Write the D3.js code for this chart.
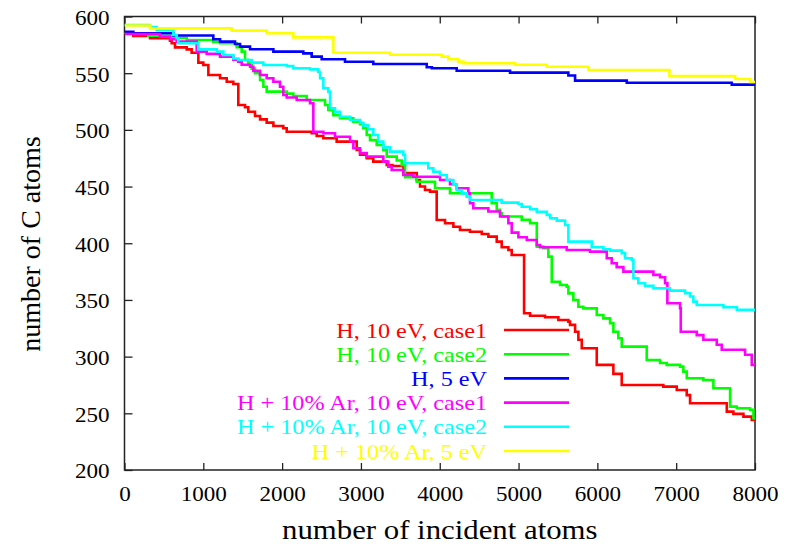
<!DOCTYPE html>
<html>
<head>
<meta charset="utf-8">
<script src="https://cdn.jsdelivr.net/npm/d3@7/dist/d3.min.js"></script>
<style>
  html, body { margin: 0; padding: 0; background: #ffffff; }
  svg { display: block; }
  svg text { font-family: 'Liberation Serif', 'Tinos', 'Nimbus Roman', 'Times New Roman', 'DejaVu Serif', serif !important; }
</style>
</head>
<body>
<svg id="chart" width="785" height="547"></svg>
<script>
// ---- data (step curves: [incident atoms, C atoms]) ----
const xTicks = [0, 1000, 2000, 3000, 4000, 5000, 6000, 7000, 8000];
const yTicks = [200, 250, 300, 350, 400, 450, 500, 550, 600];
const xLabel = "number of incident atoms";
const yLabel = "number of C atoms";

const seriesNames = ["H, 10 eV, case1", "H, 10 eV, case2", "H, 5 eV",
  "H + 10% Ar, 10 eV, case1", "H + 10% Ar, 10 eV, case2", "H + 10% Ar, 5 eV"];
const seriesColors = ["#ff0000", "#00ff00", "#0000ff", "#ff00ff", "#00ffff", "#ffff00"];

const hCase1 = [[0,585.2],[112,582.8],[324,580.8],[577,578.7],[599,576.4],[641,572.8],[789,571],[852,568],[937,559.3],[1000,557.2],[1064,548.4],[1212,545.5],[1297,542.5],[1381,540.5],[1444,522],[1529,520],[1571,516],[1656,512.3],[1720,509.3],[1804,506.4],[1889,503.4],[2015,501.4],[2058,498.4],[2375,497],[2439,494.6],[2523,492.6],[2692,489.6],[2946,482.3],[2989,478],[3073,475],[3157,472],[3327,469],[3400,468.2],[3540,462],[3708,455.8],[3750,450],[3813,447],[3877,445.5],[3961,420.5],[4067,417.6],[4173,414.6],[4257,411.7],[4384,410.2],[4533,408.2],[4617,405.8],[4723,401.4],[4786,396.5],[4871,394.1],[4913,389.7],[5070,338.3],[5146,336],[5336,334.7],[5505,332.3],[5632,330.9],[5653,328],[5717,322],[5759,314.9],[5802,307.4],[5992,292.7],[6203,284.8],[6309,275],[6837,273.5],[7007,270.6],[7134,266],[7176,258.9],[7642,251.5],[7726,249.5],[7853,247.1],[7959,244.2],[8000,244.2]];

const hCase2 = [[0,585.2],[300,583],[577,582],[619,581],[789,579.3],[1127,577.6],[1212,576.4],[1423,573],[1487,569],[1529,561.6],[1571,558.7],[1614,554],[1656,549.9],[1720,544],[1762,538.1],[1804,533.7],[2058,532],[2142,529.9],[2311,526.4],[2544,522],[2586,517.5],[2650,513],[2735,510.2],[2904,507.2],[2989,505],[3030,501.4],[3073,495.5],[3115,491],[3200,486.7],[3284,482.3],[3327,476.4],[3454,473],[3517,469],[3560,458.2],[3708,454.3],[3940,448.5],[4130,444.1],[4659,435.3],[4723,429.4],[4765,426.5],[4786,423.6],[5040,420.6],[5146,417.6],[5231,397],[5315,395.6],[5378,388.2],[5421,366.1],[5527,363.2],[5611,361.7],[5632,355.8],[5695,349.9],[5759,344],[5822,342.6],[5992,336.7],[6076,333.7],[6161,329.5],[6203,322],[6266,316.2],[6309,308.8],[6626,297],[6795,294.4],[6880,292.7],[7049,291.2],[7091,286.8],[7134,280.9],[7345,279.4],[7472,272.1],[7684,255.9],[7769,254.4],[7938,253],[7980,245.7],[8000,245.7]];

const h5eV = [[0,586.6],[112,585.2],[619,583.2],[1127,579.9],[1212,577.8],[1402,575.7],[1466,573.4],[1593,571.1],[1889,569],[2269,567.5],[2375,564.6],[2502,562.3],[2798,560.1],[3157,558.1],[3835,555.2],[3900,554.3],[4215,552.2],[4892,550.5],[5632,548],[5717,543.4],[6373,541.6],[7705,539.9],[8000,539.9]];

const arCase1 = [[0,584.5],[450,582.2],[577,580],[662,577.8],[916,569],[1043,567],[1212,564.6],[1381,562],[1444,560.1],[1487,557.5],[1593,555.7],[1635,552],[1720,548.4],[1804,545.5],[1889,542.5],[1973,538],[2015,530.8],[2058,528.5],[2185,526.4],[2354,523.5],[2396,498.4],[2523,497],[2671,494],[2862,490],[2904,483.8],[2989,479.5],[3073,476.4],[3284,472],[3348,467.6],[3390,464.6],[3538,460.2],[3665,458.7],[4004,455.8],[4130,452],[4215,448.5],[4363,444.1],[4384,435.3],[4426,430.9],[4617,428],[4765,423.6],[4871,417.6],[4913,409.4],[4998,405.3],[5104,402.9],[5231,398.5],[5273,396.5],[5611,394.1],[5907,392.6],[6119,386.8],[6182,382.4],[6245,378.9],[6330,375],[6711,372.1],[6795,370],[6859,364.7],[6888,347.1],[7049,342.7],[7058,322],[7261,319],[7345,314.9],[7515,310.5],[7578,306.1],[7874,301.6],[7959,292.7],[8000,292.7]];

const arCase2 = [[0,592.5],[324,590.5],[408,588],[619,583.7],[662,580.8],[683,576.4],[937,571],[1170,569],[1254,566],[1381,563],[1444,561.6],[1614,559.3],[1762,557.2],[2058,556.3],[2142,554.3],[2354,553.4],[2459,551],[2481,545.5],[2523,536.7],[2586,533.7],[2608,519],[2671,516],[2735,511.6],[2862,508.7],[2989,506.3],[3030,504],[3094,500.5],[3157,495.5],[3221,489.6],[3284,484.6],[3369,480.8],[3538,477.9],[3560,470.6],[3855,466.1],[3919,463.1],[4004,460.2],[4088,455.8],[4173,452],[4215,447],[4279,444],[4342,441.1],[4384,438.2],[4786,435.8],[4998,434.6],[5040,432.2],[5146,430],[5231,427.7],[5358,425],[5400,422],[5485,420],[5590,416.1],[5632,401.4],[5928,396.5],[6076,394.7],[6161,393.5],[6309,391.2],[6351,386.8],[6436,385.3],[6457,369.1],[6520,364.7],[6605,362.4],[6711,360.3],[6922,358.2],[7113,355.9],[7176,353],[7218,348.5],[7261,345.6],[7599,343.6],[7769,341.2],[8000,341.2]];

const ar5eV = [[0,592],[324,589.5],[1360,587.5],[1804,585.2],[2142,581.6],[2650,568],[3370,566.3],[4025,564.6],[4110,562.3],[4236,560.2],[4300,558.7],[4956,557.5],[5358,555.7],[5886,552.8],[6914,547.5],[7748,544.9],[7938,542.2],[8000,542.2]];

const allSeries = [hCase1, hCase2, h5eV, arCase1, arCase2, ar5eV];

// ---- layout ----
const W = 785, H = 547;
const margin = {left: 124.5, right: 30, top: 16.5, bottom: 77};
const svg = d3.select("#chart");
const FONT = "'Liberation Serif', 'Tinos', 'Nimbus Roman', 'Times New Roman', 'DejaVu Serif', serif";
const SX = 1.1; // horizontal stretch of the original raster's lettering

const x = d3.scaleLinear().domain([0, 8000]).range([margin.left, W - margin.right]);
const y = d3.scaleLinear().domain([200, 600]).range([H - margin.bottom, margin.top]);

svg.append("rect").attr("width", W).attr("height", H).attr("fill", "#ffffff");

svg.append("defs").append("clipPath").attr("id", "clip")
  .append("rect")
  .attr("x", x(0)).attr("y", y(600))
  .attr("width", x(8000) - x(0)).attr("height", y(200) - y(600));

// axes
const axisColor = "#222";
const fontTick = 21;

const gx = svg.append("g").attr("transform", `translate(0,${y(200)})`)
  .call(d3.axisBottom(x).tickValues(xTicks).tickSize(-7).tickPadding(0).tickFormat(d3.format("d")));
gx.attr("font-family", FONT);
gx.select(".domain").remove();
gx.selectAll("line").attr("stroke", axisColor).attr("stroke-width", 1.3);
gx.selectAll("text").attr("y", 31).attr("dy", 0).attr("font-size", fontTick).attr("fill", "#000")
  .attr("transform", `scale(${SX},1)`)
  .style("font-family", FONT);

const gxt = svg.append("g").attr("transform", `translate(0,${y(600)})`)
  .call(d3.axisTop(x).tickValues(xTicks).tickSize(-7).tickFormat(""));
gxt.select(".domain").remove();
gxt.selectAll("line").attr("stroke", axisColor).attr("stroke-width", 1.3);

const gy = svg.append("g").attr("transform", `translate(${x(0)},0)`)
  .call(d3.axisLeft(y).tickValues(yTicks).tickSize(-8).tickPadding(0).tickFormat(d3.format("d")));
gy.attr("font-family", FONT);
gy.select(".domain").remove();
gy.selectAll("line").attr("stroke", axisColor).attr("stroke-width", 1.3);
gy.selectAll("text").attr("x", -15 / SX).attr("dy", "0.38em").attr("font-size", fontTick).attr("fill", "#000")
  .attr("transform", `scale(${SX},1)`)
  .style("font-family", FONT);

// frame
svg.append("rect")
  .attr("x", x(0)).attr("y", y(600))
  .attr("width", x(8000) - x(0)).attr("height", y(200) - y(600))
  .attr("fill", "none").attr("stroke", axisColor).attr("stroke-width", 1.5);

// lines
const line = d3.line().x(d => x(d[0])).y(d => y(d[1])).curve(d3.curveStepAfter);
const gl = svg.append("g").attr("clip-path", "url(#clip)");
allSeries.forEach((s, i) => {
  gl.append("path").datum(s)
    .attr("d", line)
    .attr("fill", "none")
    .attr("stroke", seriesColors[i])
    .attr("stroke-width", 2.6)
    .attr("stroke-linejoin", "miter");
});

// legend
const legTextX = 487, legLineX1 = 504, legLineX2 = 569, legY0 = 330, legDY = 24.2;
const leg = svg.append("g");
seriesNames.forEach((n, i) => {
  const yy = legY0 + i * legDY;
  leg.append("text")
    .attr("transform", `translate(${legTextX},${yy + 7.5}) scale(${SX},1)`)
    .attr("text-anchor", "end").attr("font-size", 22)
    .style("font-family", FONT)
    .attr("fill", seriesColors[i]).text(n);
  leg.append("line").attr("x1", legLineX1).attr("x2", legLineX2)
    .attr("y1", yy).attr("y2", yy)
    .attr("stroke", seriesColors[i]).attr("stroke-width", 2.6);
});

// axis titles
svg.append("text")
  .attr("transform", `translate(${(x(0) + x(8000)) / 2},539) scale(${SX},1)`)
  .attr("text-anchor", "middle").attr("font-size", 28).attr("fill", "#000")
  .style("font-family", FONT).text(xLabel);
svg.append("text").attr("transform", `translate(40,244) rotate(-90)`)
  .attr("text-anchor", "middle").attr("font-size", 28).attr("fill", "#000")
  .style("font-family", FONT).text(yLabel);
</script>
</body>
</html>
